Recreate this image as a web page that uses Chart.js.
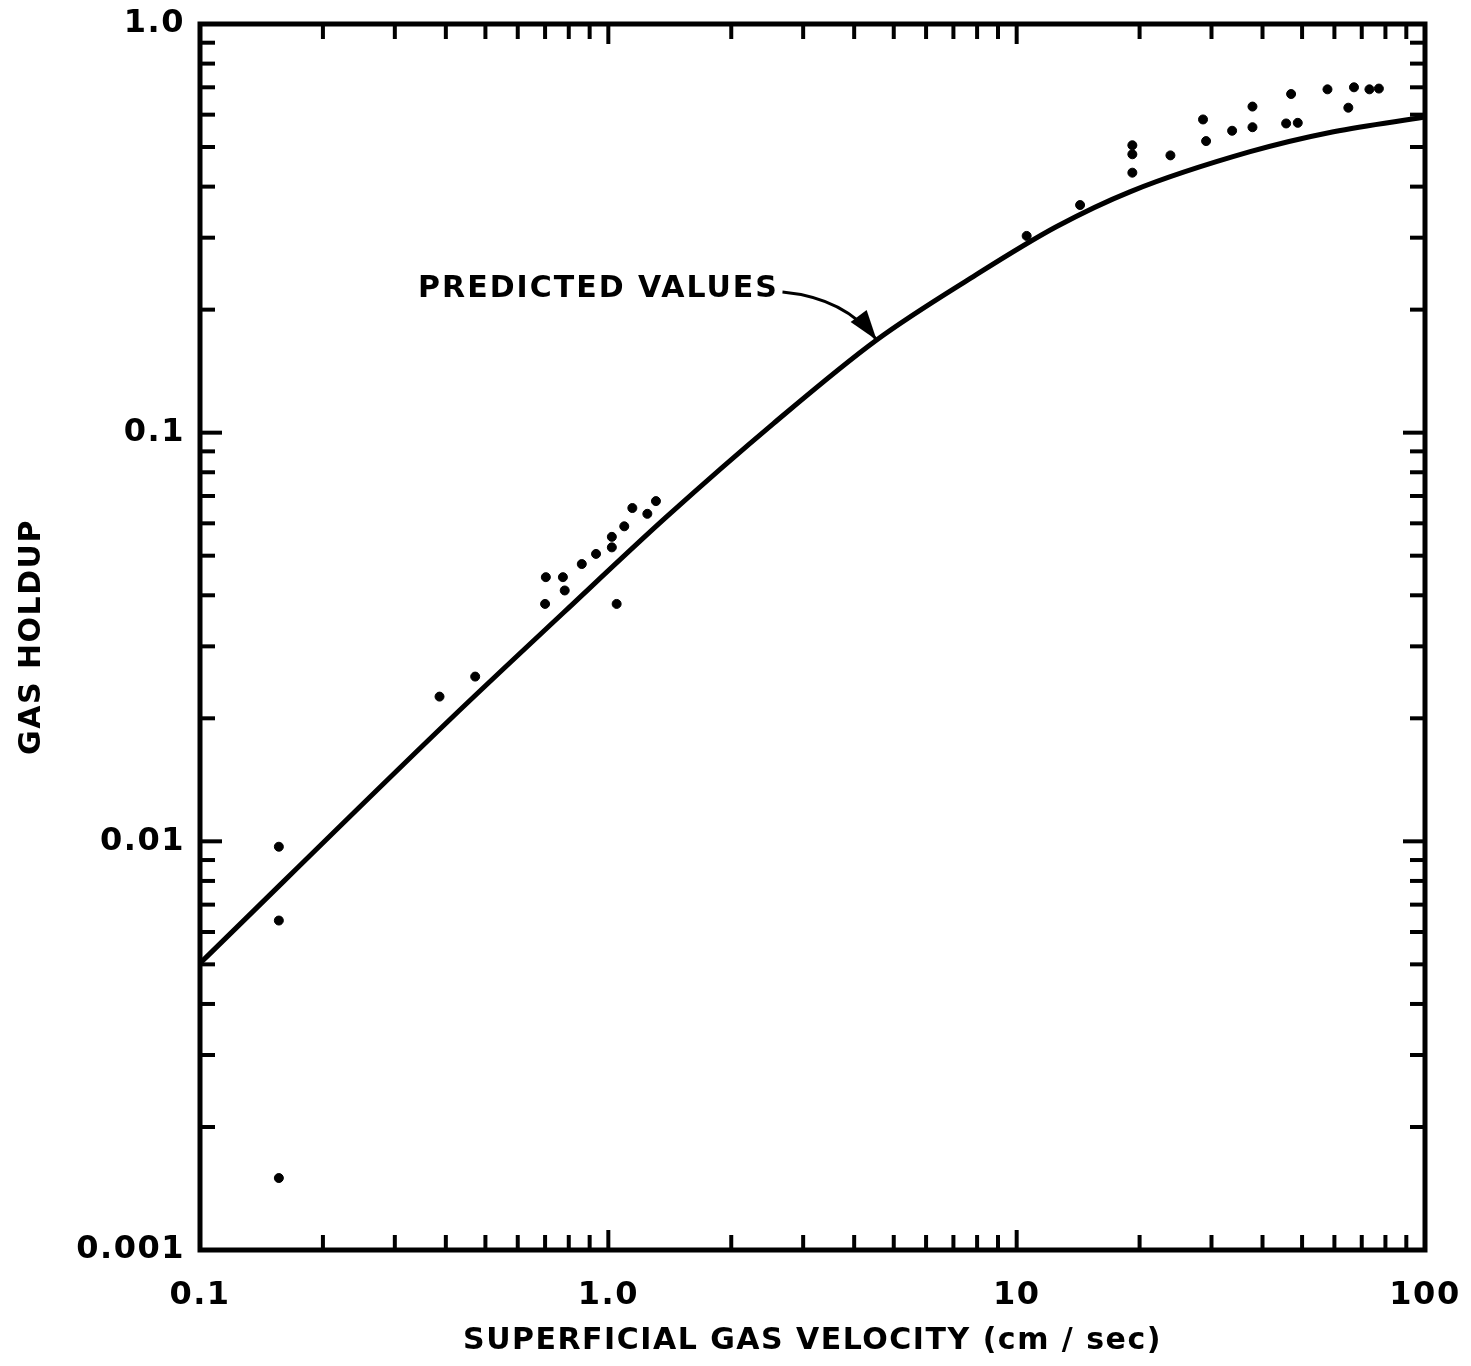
<!DOCTYPE html>
<html>
<head>
<meta charset="utf-8">
<script src="https://cdn.jsdelivr.net/npm/chart.js@4.4.1/dist/chart.umd.min.js"></script>
<style>
  html, body { margin: 0; padding: 0; background: #fff; }
</style>
</head>
<body>
<canvas id="chart" width="1471" height="1366"></canvas>
<script>
// predicted curve
const curveX = [0.1, 0.41, 0.775, 1.39, 2.54, 4.54, 7.83, 12.5, 19.0, 37.3, 59.7, 100];
const curveY = [0.00503, 0.0199, 0.0362, 0.0623, 0.1054, 0.1686, 0.241, 0.319, 0.389, 0.487, 0.545, 0.592];

// measured points
const obsX = [0.156, 0.156, 0.156, 0.386, 0.472, 0.700, 0.703, 0.774, 0.782, 0.861, 0.933, 1.02, 1.02, 1.048, 1.094, 1.145, 1.246, 1.308,
  10.58, 14.3, 19.2, 19.2, 19.2, 23.8, 28.6, 29.1, 33.7, 37.8, 37.8, 45.7, 47.0, 48.8, 57.7, 64.9, 67.0, 73.1, 77.1];
const obsY = [0.0097, 0.0064, 0.0015, 0.0226, 0.0253, 0.0381, 0.0443, 0.0443, 0.0411, 0.0477, 0.0505, 0.0524, 0.0556, 0.0381, 0.059, 0.0654, 0.0633, 0.0680,
  0.303, 0.3606, 0.4327, 0.48, 0.505, 0.477, 0.584, 0.517, 0.548, 0.559, 0.628, 0.571, 0.674, 0.573, 0.692, 0.624, 0.70, 0.692, 0.695];

// tick labels
const xMajor = [0.1, 1, 10, 100];
const xTickLabels = ['0.1', '1.0', '10', '100'];
const yMajor = [0.001, 0.01, 0.1, 1];
const yTickLabels = ['0.001', '0.01', '0.1', '1.0'];
const minorSteps = [2, 3, 4, 5, 6, 7, 8, 9];

const FONT = '"DejaVu Sans", sans-serif';

// "PREDICTED VALUES" label and its arrow, in data units
const note = { text: 'PREDICTED VALUES', x: 0.342, y: 0.225, arrowFrom: [2.67, 0.221], arrowBend: [3.8, 0.2137], arrowTo: [4.54, 0.1686] };

function minorsOf(majors) {
  var out = [];
  majors.slice(0, -1).forEach(function (m) {
    minorSteps.forEach(function (s) { out.push(m * s); });
  });
  return out;
}

// wider letter spacing for the axis text, like the hand lettering
const spacing = {
  id: 'spacing',
  beforeDraw(chart) { chart.ctx.letterSpacing = '1.5px'; },
  beforeDatasetsDraw(chart) { chart.ctx.letterSpacing = '0px'; }
};

// frame with inward ticks on all four sides
const frameTicks = {
  id: 'frameTicks',
  afterDatasetsDraw(chart) {
    const ctx = chart.ctx;
    const a = chart.chartArea;
    const x = chart.scales.x, y = chart.scales.y;
    ctx.save();
    ctx.strokeStyle = '#000';
    ctx.lineWidth = 4;
    function seg(x1, y1, x2, y2) { ctx.beginPath(); ctx.moveTo(x1, y1); ctx.lineTo(x2, y2); ctx.stroke(); }
    function xTick(v, len) {
      const px = x.getPixelForValue(v);
      seg(px, a.bottom, px, a.bottom - len);
      seg(px, a.top, px, a.top + len);
    }
    function yTick(v, len) {
      const py = y.getPixelForValue(v);
      seg(a.left, py, a.left + len, py);
      seg(a.right, py, a.right - len, py);
    }
    minorsOf(xMajor).forEach(function (v) { xTick(v, 15); });
    xMajor.forEach(function (v) { xTick(v, 20); });
    minorsOf(yMajor).forEach(function (v) { yTick(v, 15); });
    yMajor.forEach(function (v) { yTick(v, 22); });
    ctx.lineWidth = 5;
    ctx.strokeRect(a.left, a.top, a.width, a.height);
    ctx.restore();
  }
};

const annotate = {
  id: 'annotate',
  afterDraw(chart) {
    const ctx = chart.ctx;
    const x = chart.scales.x, y = chart.scales.y;
    ctx.save();
    ctx.fillStyle = '#000';
    ctx.strokeStyle = '#000';
    ctx.font = 'bold 30px ' + FONT;
    ctx.letterSpacing = '2px';
    ctx.textBaseline = 'middle';
    ctx.fillText(note.text, x.getPixelForValue(note.x), y.getPixelForValue(note.y));

    const p0 = [x.getPixelForValue(note.arrowFrom[0]), y.getPixelForValue(note.arrowFrom[1])];
    const p1 = [x.getPixelForValue(note.arrowBend[0]), y.getPixelForValue(note.arrowBend[1])];
    const p2 = [x.getPixelForValue(note.arrowTo[0]), y.getPixelForValue(note.arrowTo[1])];
    ctx.lineWidth = 3;
    ctx.beginPath();
    ctx.moveTo(p0[0], p0[1]);
    ctx.quadraticCurveTo(p1[0], p1[1], p2[0], p2[1]);
    ctx.stroke();

    // arrow head
    const ang = Math.atan2(p2[1] - p1[1], p2[0] - p1[0]);
    const len = 30, half = 10;
    ctx.beginPath();
    ctx.moveTo(p2[0], p2[1]);
    ctx.lineTo(p2[0] - len * Math.cos(ang) + half * Math.sin(ang), p2[1] - len * Math.sin(ang) - half * Math.cos(ang));
    ctx.lineTo(p2[0] - len * Math.cos(ang) - half * Math.sin(ang), p2[1] - len * Math.sin(ang) + half * Math.cos(ang));
    ctx.closePath();
    ctx.fill();
    ctx.restore();
  }
};

function noPad(axis) {
  axis.paddingLeft = 0;
  axis.paddingRight = 0;
  axis.paddingTop = 0;
  axis.paddingBottom = 0;
}

var ctx = document.getElementById('chart').getContext('2d');
var myChart = new Chart(ctx, {
  type: 'scatter',
  data: {
    datasets: [
      {
        label: 'Predicted values',
        data: curveX.map(function (v, i) { return { x: v, y: curveY[i] }; }),
        showLine: true,
        borderColor: '#000',
        borderWidth: 5,
        pointRadius: 0,
        cubicInterpolationMode: 'monotone',
        order: 2
      },
      {
        label: 'Measured',
        data: obsX.map(function (v, i) { return { x: v, y: obsY[i] }; }),
        showLine: false,
        backgroundColor: '#000',
        borderColor: '#000',
        pointRadius: 4.5,
        order: 1
      }
    ]
  },
  options: {
    responsive: false,
    animation: false,
    devicePixelRatio: 1,
    layout: { padding: { top: 24, right: 46, left: 0, bottom: 0 } },
    plugins: {
      legend: { display: false },
      tooltip: { enabled: false }
    },
    scales: {
      x: {
        type: 'logarithmic',
        min: 0.1,
        max: 100,
        afterBuildTicks: function (axis) { axis.ticks = xMajor.map(function (v) { return { value: v }; }); },
        afterFit: function (axis) { axis.height = 116; noPad(axis); },
        grid: { display: false, drawTicks: false },
        border: { display: false },
        ticks: {
          autoSkip: false,
          maxRotation: 0,
          padding: 26,
          color: '#000',
          font: { family: FONT, size: 32, weight: 'bold' },
          callback: function (v) { return xTickLabels[xMajor.indexOf(v)]; }
        },
        title: {
          display: true,
          text: 'SUPERFICIAL GAS VELOCITY (cm / sec)',
          color: '#000',
          font: { family: FONT, size: 30, weight: 'bold' },
          padding: { top: 0, bottom: 7 }
        }
      },
      y: {
        type: 'logarithmic',
        min: 0.001,
        max: 1,
        afterBuildTicks: function (axis) { axis.ticks = yMajor.map(function (v) { return { value: v }; }); },
        afterFit: function (axis) { axis.width = 200; noPad(axis); },
        grid: { display: false, drawTicks: false },
        border: { display: false },
        ticks: {
          autoSkip: false,
          padding: 15,
          color: '#000',
          font: { family: FONT, size: 32, weight: 'bold' },
          callback: function (v) { return yTickLabels[yMajor.indexOf(v)]; }
        },
        title: {
          display: true,
          text: 'GAS HOLDUP',
          color: '#000',
          font: { family: FONT, size: 30, weight: 'bold' },
          padding: { top: 14, bottom: 0 }
        }
      }
    }
  },
  plugins: [spacing, frameTicks, annotate]
});
</script>
</body>
</html>
